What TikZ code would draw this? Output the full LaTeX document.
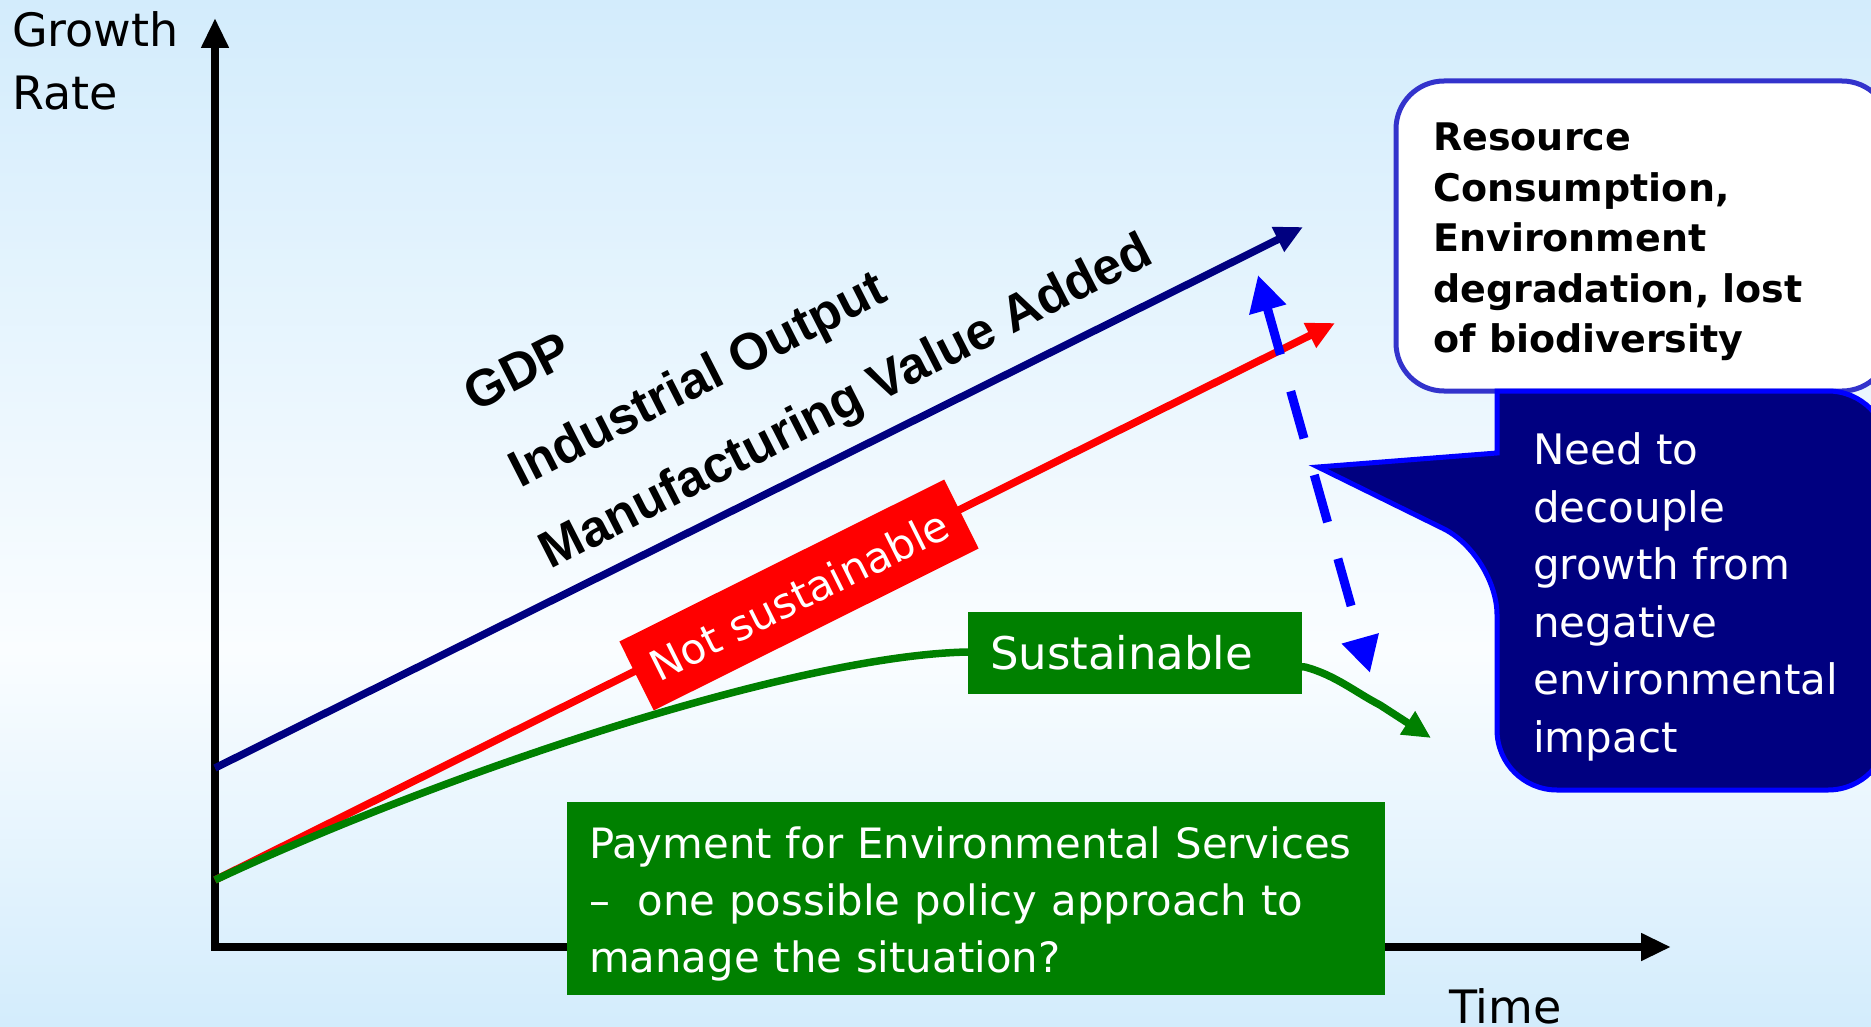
\documentclass[tikz,border=0pt]{standalone}
\usepackage{fontspec}
\setmainfont{DejaVu Sans}
\newfontfamily\seriesfont{Liberation Sans}
\usetikzlibrary{arrows.meta,positioning}

\definecolor{bgblue}{HTML}{D3ECFC}
\definecolor{bgwhite}{HTML}{FAFDFF}
\definecolor{gdpnavy}{HTML}{000080}
\definecolor{ppgreen}{HTML}{008000}
\definecolor{ppred}{HTML}{FF0000}
\definecolor{ppblue}{HTML}{0000FF}
\definecolor{boxedge}{HTML}{3333CC}

\tikzset{
  trend/.style={line width=7.5pt, -{Triangle[length=28pt,width=26pt]}},
  serieslabel/.style={rotate=27, inner sep=0pt, font=\seriesfont\bfseries\fontsize{51.5}{51.5}\selectfont},
  greenbox/.style={fill=ppgreen, text=white, inner sep=0pt, align=left},
}

\begin{document}
\begin{tikzpicture}[x=1pt, y=-1pt]
\useasboundingbox (0,0) rectangle (1871,1027);
% background
\shade[top color=bgblue, bottom color=bgwhite] (0,0) rectangle (1871,650);
\shade[top color=bgwhite, bottom color=bgblue] (0,650) rectangle (1871,1027);

% axes
\coordinate (ytip) at (215,18);
\coordinate (xtip) at (1671,947);
\draw[line width=8pt, {Triangle[length=30pt,width=26pt]}-{Triangle[length=30pt,width=26pt]}] (ytip) |- (xtip);
\node[anchor=north west, inner sep=0pt, align=left, font=\fontsize{46}{63}\selectfont] (ylabel) at (12,11) {Growth\\Rate};
\node[anchor=base west, inner sep=0pt, font=\fontsize{46}{63}\selectfont] (xlabel) at (1449,1023) {Time};

% growth curves
\coordinate (gdp0) at (215,768);
\coordinate (gdp1) at (1303,227);
\coordinate (red0) at (215,880);
\coordinate (red1) at (1335,323);
\coordinate (grn1) at (1431,738);
\draw[trend, gdpnavy] (gdp0) -- (gdp1);
\draw[trend, ppred] (red0) -- (red1);
\draw[trend, ppgreen] (red0) .. controls (450,770) and (800,655) .. (968,652) -- (1305,667)
  .. controls (1335,675) and (1355,692) .. (1380,705) -- (grn1);

\node[serieslabel] (gdp) at (517,371) {GDP};
\node[serieslabel] (indout) at (699,382) {Industrial Output};
\node[serieslabel] (mva) at (847,404) {Manufacturing Value Added};

\node[rotate=26.5, fill=ppred, text=white, minimum width=363pt, minimum height=77pt, inner sep=0pt,
  font=\fontsize{42}{42}\selectfont] (notsus) at (799,595) {Not sustainable};
\node[greenbox, minimum width=334pt, minimum height=82pt, text width=290pt,
  font=\fontsize{45}{45}\selectfont] (sus) at (1135,653) {Sustainable};
\node[greenbox, minimum width=818pt, minimum height=193pt] (pes) at (976,898) {};
\node[text=white, inner sep=0pt, text width=774pt, align=left, yshift=-6pt,
  font=\fontsize{41.8}{57}\selectfont] (pestext) at (pes.center)
  {Payment for Environmental Services\\–\ \ one possible policy approach to\\manage the situation?};

% boxes on the right
\node[draw=boxedge, line width=5pt, fill=white, rounded corners=48pt, minimum width=494pt, minimum height=310pt,
  inner sep=0pt] (impact) at (1643,236) {};
\node[anchor=north west, inner sep=0pt, align=left, font=\bfseries\fontsize{38}{50.5}\selectfont] (impacttext)
  at (1433,123) {Resource\\Consumption,\\Environment\\degradation, lost\\of biodiversity};
\draw[draw=ppblue, fill=gdpnavy, line width=5pt] (1318,467) -- (1497,453) -- (1497,391) [rounded corners=60pt]
  -- (1888,391) -- (1888,790) -- (1497,790) -- (1497,555) [sharp corners] -- cycle;
\node[anchor=west, inner sep=0pt, align=left, text=white, font=\fontsize{42}{57.5}\selectfont] (decouple) at (1533,597)
  {Need to\\decouple\\growth from\\negative\\environmental\\impact};

\coordinate (dtop) at (1258,275);
\coordinate (dbot) at (1370,673);
\draw[ppblue, line width=9pt, dash pattern=on 49pt off 38pt,
  {Triangle[length=36pt,width=36pt]}-{Triangle[length=36pt,width=36pt]}] (dtop) -- (dbot);
\end{tikzpicture}
\end{document}
